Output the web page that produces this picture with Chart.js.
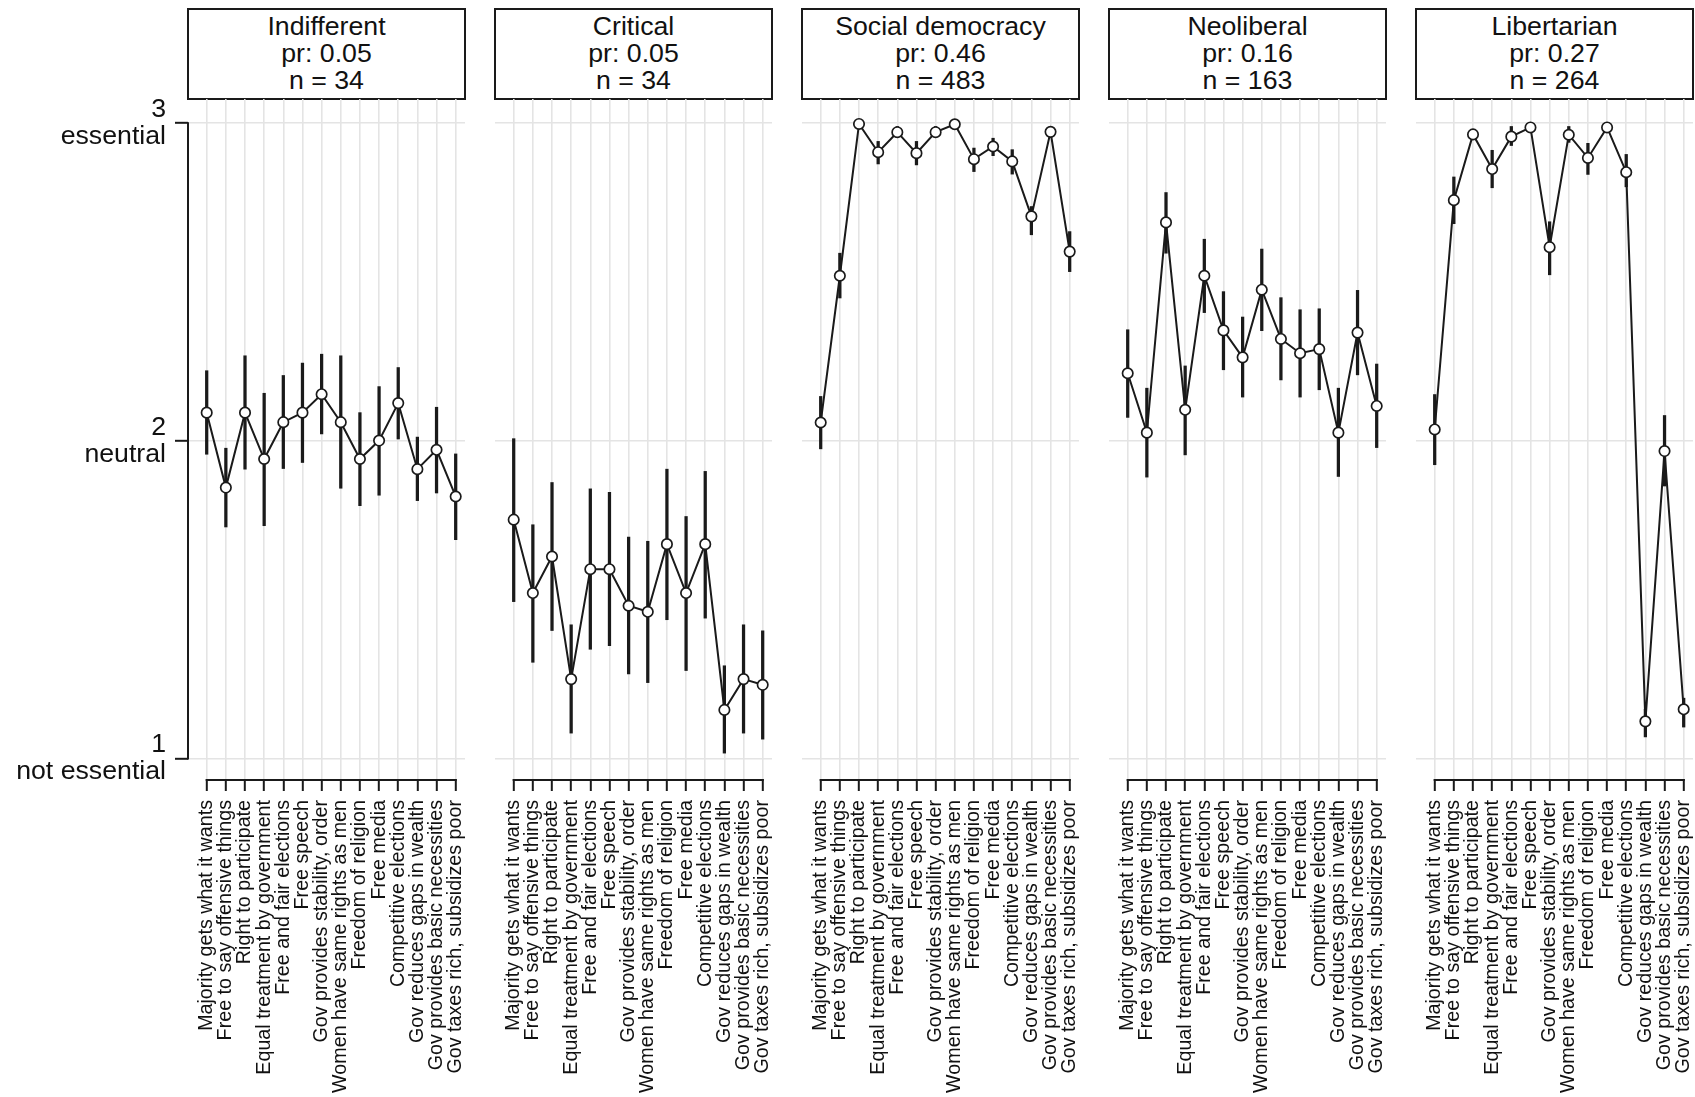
<!DOCTYPE html>
<html>
<head>
<meta charset="utf-8">
<script src="https://cdn.jsdelivr.net/npm/chart.js@4.4.1/dist/chart.umd.min.js"></script>
<style>
  html, body { margin: 0; padding: 0; background: #fff; }
  #wrap { position: relative; width: 1695px; height: 1097px; overflow: hidden;
          font-family: "Liberation Sans", Arial, sans-serif; }
  #wrap canvas { position: absolute; top: 0; }
  .strip { position: absolute; top: 8px; height: 92px; box-sizing: border-box;
           border: 2px solid #1a1a1a; background: #fff; color: #111;
           text-align: center; font-size: 26.7px; line-height: 27px; padding-top: 3px; }
</style>
</head>
<body>
<div id="wrap"></div>
<script>
// Survey items, in plotting order
const items = [
  'Majority gets what it wants',
  'Free to say offensive things',
  'Right to participate',
  'Equal treatment by government',
  'Free and fair elections',
  'Free speech',
  'Gov provides stability, order',
  'Women have same rights as men',
  'Freedom of religion',
  'Free media',
  'Competitive elections',
  'Gov reduces gaps in wealth',
  'Gov provides basic necessities',
  'Gov taxes rich, subsidizes poor'
];

// Latent classes
const classNames = ['Indifferent', 'Critical', 'Social democracy', 'Neoliberal', 'Libertarian'];
const classShares = ['0.05', '0.05', '0.46', '0.16', '0.27'];
const classSizes = [34, 34, 483, 163, 264];

// Mean rating and interval per item, by class
const indifferentMean = [2.089, 1.853, 2.089, 1.943, 2.059, 2.089, 2.147, 2.059, 1.943, 2.001, 2.119, 1.911, 1.972, 1.825];
const indifferentLow  = [1.958, 1.729, 1.911, 1.733, 1.913, 1.932, 2.022, 1.851, 1.796, 1.829, 2.006, 1.812, 1.836, 1.689];
const indifferentHigh = [2.221, 1.977, 2.268, 2.150, 2.206, 2.245, 2.273, 2.268, 2.089, 2.171, 2.231, 2.012, 2.106, 1.959];

const criticalMean = [1.752, 1.521, 1.636, 1.250, 1.596, 1.596, 1.481, 1.462, 1.675, 1.521, 1.675, 1.153, 1.250, 1.232];
const criticalLow  = [1.494, 1.303, 1.403, 1.080, 1.344, 1.355, 1.266, 1.239, 1.437, 1.277, 1.442, 1.017, 1.080, 1.061];
const criticalHigh = [2.007, 1.736, 1.869, 1.421, 1.849, 1.838, 1.697, 1.684, 1.911, 1.762, 1.904, 1.292, 1.421, 1.402];

const socialMean = [2.058, 2.520, 2.998, 2.909, 2.972, 2.906, 2.972, 2.997, 2.887, 2.927, 2.880, 2.707, 2.973, 2.596];
const socialLow  = [1.975, 2.450, 2.988, 2.872, 2.955, 2.869, 2.956, 2.990, 2.848, 2.898, 2.840, 2.649, 2.957, 2.533];
const socialHigh = [2.140, 2.591, 3.000, 2.943, 2.990, 2.943, 2.990, 3.000, 2.922, 2.953, 2.917, 2.738, 2.990, 2.659];

const neoliberalMean = [2.213, 2.026, 2.688, 2.098, 2.520, 2.348, 2.263, 2.476, 2.321, 2.276, 2.289, 2.026, 2.341, 2.110];
const neoliberalLow  = [2.074, 1.886, 2.591, 1.956, 2.404, 2.224, 2.138, 2.347, 2.192, 2.138, 2.161, 1.888, 2.208, 1.979];
const neoliberalHigh = [2.350, 2.166, 2.782, 2.236, 2.635, 2.470, 2.390, 2.604, 2.451, 2.413, 2.416, 2.166, 2.474, 2.242];

const libertarianMean = [2.036, 2.758, 2.965, 2.856, 2.958, 2.987, 2.610, 2.964, 2.891, 2.987, 2.846, 1.117, 1.968, 1.155];
const libertarianLow  = [1.925, 2.684, 2.950, 2.797, 2.930, 2.975, 2.523, 2.940, 2.839, 2.975, 2.800, 1.068, 1.858, 1.099];
const libertarianHigh = [2.146, 2.831, 2.980, 2.915, 2.990, 3.000, 2.690, 2.990, 2.937, 3.000, 2.902, 1.155, 2.080, 1.190];

// Rating scale ticks
const yTickNumbers = ['1', '2', '3'];
const yTickNames = ['not essential', 'neutral', 'essential'];

const classMeans = [indifferentMean, criticalMean, socialMean, neoliberalMean, libertarianMean];
const classLows = [indifferentLow, criticalLow, socialLow, neoliberalLow, libertarianLow];
const classHighs = [indifferentHigh, criticalHigh, socialHigh, neoliberalHigh, libertarianHigh];

// Layout
const PAGE_H = 1097;
const FIRST_LEFT = 188, STEP = 307, PANEL_W = 277;
const PLOT_TOP = 99, PLOT_BOTTOM = 779;
const SIDE = 12;
const X_MIN = 0.0235, X_MAX = 14.486;
const Y_MIN = 0.9355, Y_MAX = 3.0765;
const INK = '#1a1a1a';
const TEXT = '#111111';
const GRID = '#e4e4e4';
const FONT = '"Liberation Sans", Arial, sans-serif';

// Axis lines that only run between the first and last tick
const cappedAxes = {
  id: 'cappedAxes',
  afterDraw(chart, args, opts) {
    const { ctx, chartArea } = chart;
    const xs = chart.scales.x, ys = chart.scales.y;
    ctx.save();
    ctx.strokeStyle = INK;
    ctx.lineWidth = 2;
    ctx.lineCap = 'square';
    ctx.beginPath();
    ctx.moveTo(xs.getPixelForValue(1), chartArea.bottom + 1);
    ctx.lineTo(xs.getPixelForValue(items.length), chartArea.bottom + 1);
    if (opts.left) {
      ctx.moveTo(chartArea.left, ys.getPixelForValue(yTickNumbers.length));
      ctx.lineTo(chartArea.left, ys.getPixelForValue(1));
    }
    ctx.stroke();
    ctx.restore();
  }
};

const wrap = document.getElementById('wrap');

classNames.forEach((name, k) => {
  const panelLeft = FIRST_LEFT + STEP * k;
  const first = k === 0;

  const strip = document.createElement('div');
  strip.className = 'strip';
  strip.style.left = (panelLeft - 1) + 'px';
  strip.style.width = (PANEL_W + 2) + 'px';
  strip.innerHTML = name + '<br>pr: ' + classShares[k] + '<br>n = ' + classSizes[k];
  wrap.appendChild(strip);

  const canvas = document.createElement('canvas');
  const canvasLeft = first ? 0 : panelLeft - SIDE;
  const canvasW = first ? panelLeft + PANEL_W + SIDE : PANEL_W + 2 * SIDE;
  canvas.width = canvasW;
  canvas.height = PAGE_H;
  canvas.style.left = canvasLeft + 'px';
  canvas.style.width = canvasW + 'px';
  canvas.style.height = PAGE_H + 'px';
  wrap.appendChild(canvas);

  const means = classMeans[k], lows = classLows[k], highs = classHighs[k];

  new Chart(canvas, {
    type: 'line',
    data: {
      datasets: [
        {
          type: 'bar',
          data: items.map((_, i) => ({ x: i + 1, y: [lows[i], highs[i]] })),
          backgroundColor: INK,
          borderWidth: 0,
          barThickness: 2.6,
          order: 2
        },
        {
          type: 'line',
          data: items.map((_, i) => ({ x: i + 1, y: means[i] })),
          borderColor: INK,
          borderWidth: 2,
          tension: 0,
          pointRadius: 5.2,
          pointBackgroundColor: '#ffffff',
          pointBorderColor: INK,
          pointBorderWidth: 1.7,
          clip: false,
          order: 1
        }
      ]
    },
    options: {
      responsive: false,
      devicePixelRatio: 1,
      animation: false,
      events: [],
      layout: {
        autoPadding: false,
        padding: { top: PLOT_TOP, bottom: 0, left: first ? 0 : SIDE, right: SIDE }
      },
      plugins: {
        legend: { display: false },
        tooltip: { enabled: false },
        cappedAxes: { left: first }
      },
      scales: {
        x: {
          type: 'linear',
          min: X_MIN,
          max: X_MAX,
          offset: false,
          border: { display: false },
          grid: {
            offset: false,
            color: GRID,
            lineWidth: 1.6,
            drawTicks: true,
            tickLength: 12,
            tickColor: INK,
            tickWidth: 2
          },
          ticks: {
            autoSkip: false,
            minRotation: 90,
            maxRotation: 90,
            padding: 9,
            color: TEXT,
            font: { family: FONT, size: 19.7 },
            callback: (v) => items[Math.round(v) - 1]
          },
          afterBuildTicks: (s) => { s.ticks = items.map((_, i) => ({ value: i + 1 })); },
          afterFit: (s) => {
            s.height = PAGE_H - PLOT_BOTTOM;
            s.paddingLeft = 0; s.paddingRight = 0;
          }
        },
        y: {
          type: 'linear',
          min: Y_MIN,
          max: Y_MAX,
          border: { display: false },
          grid: {
            color: GRID,
            lineWidth: 1.6,
            drawTicks: first,
            tickLength: 13,
            tickColor: INK,
            tickWidth: 2
          },
          ticks: {
            display: first,
            padding: 9,
            color: TEXT,
            font: { family: FONT, size: 26.7, lineHeight: 1.01 },
            callback: (v) => {
              const i = Math.round(v) - 1;
              return [yTickNumbers[i], yTickNames[i]];
            }
          },
          afterBuildTicks: (s) => { s.ticks = yTickNumbers.map((_, i) => ({ value: i + 1 })); },
          afterFit: (s) => {
            s.width = first ? FIRST_LEFT : 0;
            s.paddingTop = 0; s.paddingBottom = 0;
          }
        }
      }
    },
    plugins: [cappedAxes]
  });
});
</script>
</body>
</html>
